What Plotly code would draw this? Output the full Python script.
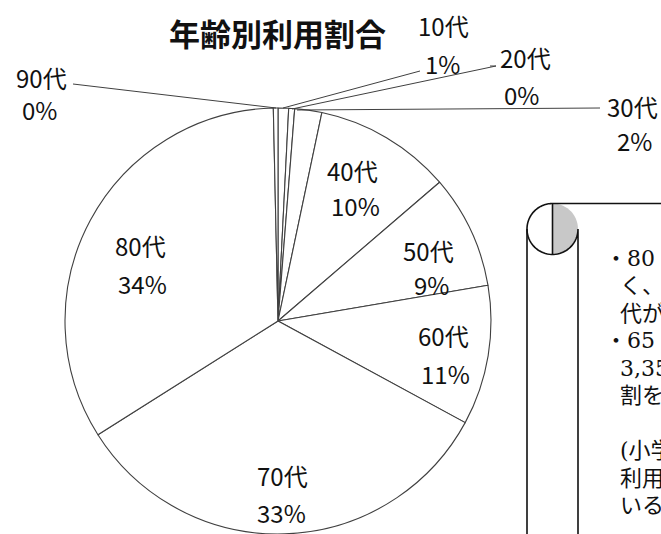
import numpy as np
import plotly.graph_objects as go

# ---- data -------------------------------------------------------------
ages = ["10代", "20代", "30代", "40代", "50代", "60代", "70代", "80代", "90代"]
shares = [0.8, 0.45, 2.05, 10.4, 8.6, 10.6, 33.1, 33.6, 0.35]
chart_title = "年齢別利用割合"

note_lines = [
    "・80 代の利用者が最も多",
    "く、次いで 70 代、60",
    "代が多くなっている。",
    "・65 歳以上の利用者は",
    "3,357 人で、全体の約 8",
    "割を占めている。",
    "",
    "(小学生から 90 代まで",
    "利用者は幅広い年代に",
    "いる。)",
]

# ---- canvas (pixel-like coordinates via hidden axes) -----------------
W, H = 661, 534
EDGE = "#404040"
LABEL_FONT = "Noto Sans CJK JP, Noto Sans, sans-serif"
NOTE_FONT = "DejaVu Serif, Noto Sans CJK JP, serif"

total = sum(shares)
pct = [round(v / total * 100) for v in shares]

fig = go.Figure()

# pie: centre (278, 321), radius 213 px
fig.add_trace(go.Pie(
    labels=ages,
    values=shares,
    sort=False,
    direction="clockwise",
    rotation=0,
    textinfo="none",
    hoverinfo="skip",
    marker=dict(colors=["white"] * len(ages), line=dict(color=EDGE, width=1.1)),
    domain=dict(x=[65 / W, 491 / W], y=[0, 426 / H]),
    showlegend=False,
))

# label placement: (name line centre, percent line centre)
label_pos = [
    ((443, 25), (442, 63)),   # 10代
    ((525, 57), (521, 94)),   # 20代
    ((632, 106), (634, 140)), # 30代
    ((352, 170), (355, 205)), # 40代
    ((428, 250), (431, 284)), # 50代
    ((443, 335), (445, 373)), # 60代
    ((282, 475), (281, 512)), # 70代
    ((140, 245), (142, 283)), # 80代
    ((41, 77), (39, 109)),    # 90代
]

annotations = []
for name, p, (pn, pp) in zip(ages, pct, label_pos):
    annotations.append(dict(x=pn[0], y=pn[1], text=name, showarrow=False,
                            xref="x", yref="y", xanchor="center", yanchor="middle",
                            font=dict(family=LABEL_FONT, size=24, color="#111")))
    annotations.append(dict(x=pp[0], y=pp[1], text=f"{p}%", showarrow=False,
                            xref="x", yref="y", xanchor="center", yanchor="middle",
                            font=dict(family=LABEL_FONT, size=24, color="#111")))

annotations.append(dict(x=277, y=32, text=f"<b>{chart_title}</b>", showarrow=False,
                        xref="x", yref="y", xanchor="center", yanchor="middle",
                        font=dict(family=LABEL_FONT, size=31, color="#111")))

# callout text (runs off the right edge)
note_x = [603, 618, 618, 603, 618, 618, 607, 618, 618, 618]
y0, dy = 258, 27.5
for i, (line, nx) in enumerate(zip(note_lines, note_x)):
    if not line:
        continue
    annotations.append(dict(x=nx, y=y0 + i * dy, text=line, showarrow=False,
                            xref="x", yref="y", xanchor="left", yanchor="middle",
                            font=dict(family=NOTE_FONT, size=22, color="#111")))

# leader lines
leaders = [
    [(73, 84), (276, 108)],                 # 90代
    [(420, 71), (283, 108)],                # 10代
    [(490, 66), (496, 66), (292, 109)],     # 20代
    [(297, 110), (600, 108)],               # 30代
]
shapes = []
for pts in leaders:
    d = "M " + " L ".join(f"{x},{y}" for x, y in pts)
    shapes.append(dict(type="path", path=d, xref="x", yref="y",
                       line=dict(color=EDGE, width=1)))


def arc(cx, cy, r, a0, a1, n=40):
    t = np.radians(np.linspace(a0, a1, n))
    return [(cx + r * np.cos(v), cy + r * np.sin(v)) for v in t]


def poly(pts, close=False):
    d = "M " + " L ".join(f"{x:.2f},{y:.2f}" for x, y in pts)
    return d + (" Z" if close else "")


# scroll-shaped callout frame
cx, cy, rr = 552.5, 229.0, 25.5
gray = [(cx, cy - rr), (cx, cy + rr)] + arc(cx, cy, rr, 90, -90)
shapes.append(dict(type="path", path=poly(gray, True), xref="x", yref="y",
                   fillcolor="#c8c8c8", line=dict(width=0)))
outer = [(cx - rr, H + 5)] + arc(cx, cy, rr, 180, 270) + [(W + 5, cy - rr)]
shapes.append(dict(type="path", path=poly(outer), xref="x", yref="y",
                   line=dict(color="#111", width=1.6)))
curl = arc(cx, cy, rr, 180, 0) + [(cx + rr, H + 5)]
shapes.append(dict(type="path", path=poly(curl), xref="x", yref="y",
                   line=dict(color="#111", width=1.6)))
shapes.append(dict(type="line", x0=cx, x1=cx, y0=cy - rr, y1=cy + rr,
                   xref="x", yref="y", line=dict(color="#111", width=1.6)))

fig.update_layout(
    width=W, height=H,
    margin=dict(l=0, r=0, t=0, b=0, pad=0),
    paper_bgcolor="white", plot_bgcolor="rgba(0,0,0,0)",
    xaxis=dict(range=[0, W], visible=False, fixedrange=True),
    yaxis=dict(range=[H, 0], visible=False, fixedrange=True),
    shapes=shapes,
    annotations=annotations,
)

fig.write_html("out.html")
